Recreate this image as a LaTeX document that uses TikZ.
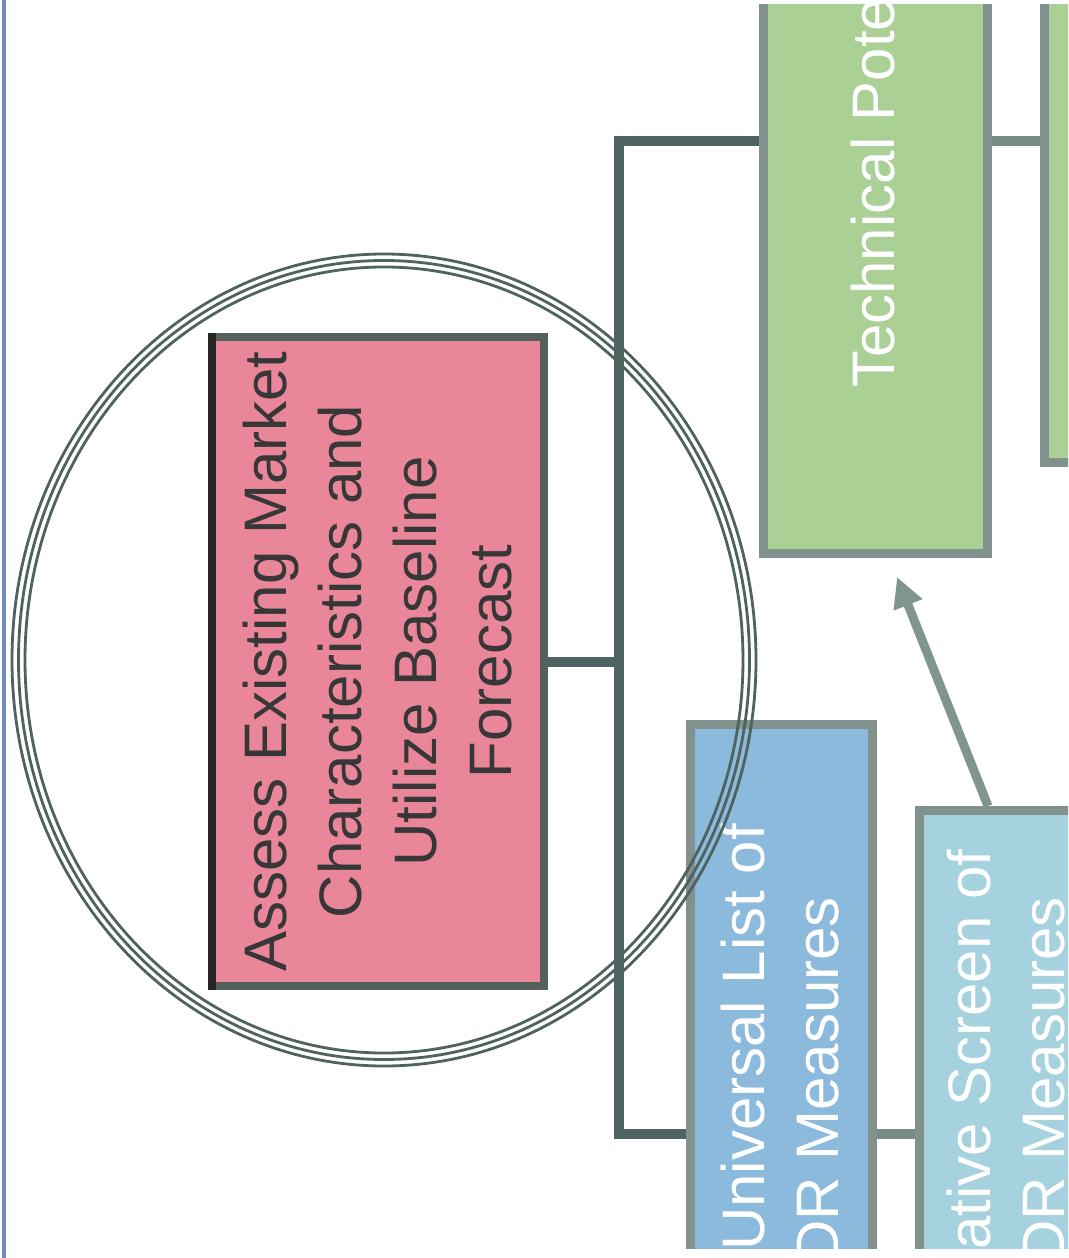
\documentclass[tikz,border=0pt]{standalone}
\usepackage{fontspec}
\setmainfont{Liberation Sans}
\usetikzlibrary{arrows.meta}
\definecolor{framebl}{RGB}{110,140,190}
\definecolor{pinkfill}{RGB}{234,134,154}
\definecolor{pinkedge}{RGB}{84,96,90}
\definecolor{greenfill}{RGB}{170,208,150}
\definecolor{bluefill}{RGB}{140,186,220}
\definecolor{lightfill}{RGB}{165,210,222}
\definecolor{boxedge}{RGB}{128,145,142}
\definecolor{connc}{RGB}{78,100,98}
\definecolor{connlight}{RGB}{120,140,136}
\definecolor{ringc}{RGB}{78,98,94}
\definecolor{arrowc}{RGB}{128,150,140}
\definecolor{inkc}{RGB}{55,55,55}

\begin{document}
\begin{tikzpicture}[x=1pt,y=-1pt,
  box/.style={draw=boxedge, line width=9pt, rectangle, inner sep=0pt, anchor=north west},
  conn/.style={draw=connc, line width=10pt, line join=miter},
  connb/.style={draw=connlight, line width=10pt},
  lbl/.style={rotate=90, anchor=base west, inner sep=0pt, text=white,
              font=\fontsize{60}{74}\selectfont},
  ring/.style={draw=ringc, line width=2.8pt},
  arr/.style={draw=arrowc, line width=9pt, -{Triangle[length=30pt,width=29pt]}},
]
\useasboundingbox (0,0) rectangle (1068,1258);
% page frame rule
\draw[framebl, line width=3.5pt] (4,0) -- (4,1258);

\begin{scope}
\clip (0,4) rectangle (1068,1248);

% process boxes
\node[box, fill=greenfill, minimum width=224pt, minimum height=613pt] (tech) at (759,-64) {};
\node[box, fill=greenfill, minimum width=200pt, minimum height=522pt] (tech2) at (1040,-64) {};
\node[box, fill=bluefill, minimum width=182pt, minimum height=600pt] (univ) at (686,720) {};
\node[box, fill=lightfill, minimum width=250pt, minimum height=600pt] (qual) at (915,806) {};

\node[rotate=90, draw=pinkedge, line width=8pt, fill=pinkfill,
      minimum width=649pt, minimum height=332pt, inner sep=0pt,
      align=center, text=inkc, font=\fontsize{60}{75}\selectfont]
  (pink) at (378,661.5)
  {Assess Existing Market\\Characteristics and\\Utilize Baseline\\Forecast};
\draw[draw=black!85, line width=8pt] (212,333) -- (212,990);

% box labels
\node[lbl] (techtxt) at (894,388) {Technical Pote};
\node[lbl] (univtxt) at (764,1251) {Universal List of};
\node[lbl] (univtxtb) at (838,1264) {DR Measures};
\node[lbl] (qualtxt) at (990,1250) {ative Screen of};
\node[lbl] (qualtxtb) at (1064,1264) {DR Measures};

% connectors
\coordinate (jt) at (619,141);
\coordinate (jb) at (619,1134);
\draw[conn] (jt -| tech.west) -- (jt) -- (jb) -- (jb -| univ.west);
\draw[conn] (pink.south) -- (pink.south -| jt);
\draw[connb] (jb -| univ.east) -- (jb -| qual.west);
\draw[connb] (jt -| tech.east) -- (jt -| tech2.west);

\coordinate (tip) at (897,577);
\draw[arr] ([xshift=73pt]qual.north west) -- (tip);

% triple ring around the first step
\draw[ring] (384,660) ellipse [x radius=372pt, y radius=406pt];
\draw[ring] (384,660) ellipse [x radius=365.5pt, y radius=399.5pt];
\draw[ring] (384,660) ellipse [x radius=359pt, y radius=393pt];
\end{scope}
\end{tikzpicture}
\end{document}
